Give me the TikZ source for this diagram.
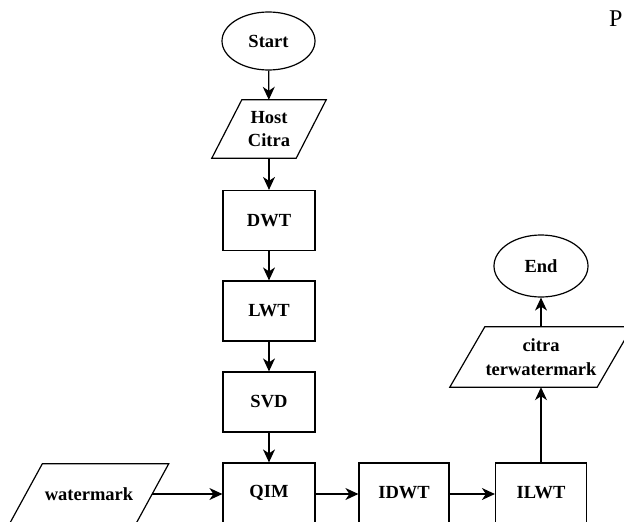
\documentclass[tikz,border=0pt]{standalone}
\usepackage{fontspec}
\setmainfont{Liberation Serif}
\usetikzlibrary{shapes.geometric,arrows.meta}
\begin{document}
\begin{tikzpicture}[x=1pt,y=-1pt,
  every node/.style={font=\fontsize{18.5}{23.5}\selectfont\bfseries, align=center},
  lw/.style={line width=1.2pt},
  proc/.style={draw, lw, rectangle, minimum width=92pt, minimum height=60pt, inner sep=0pt},
  term/.style={draw, lw, ellipse, minimum width=93pt, minimum height=58pt, inner sep=0pt},
  iobox/.style={rectangle, inner sep=0pt},
  arr/.style={lw, -{Stealth[length=13pt,width=12pt,inset=4pt]}}
]
\useasboundingbox (0,0) rectangle (624,522);
\fill[white] (0,0) rectangle (624,522);
\begin{scope}
\clip (0,0) rectangle (624,522);
% nodes
\node[term] (start) at (268.5,41) {Start};
\node[iobox, minimum width=84pt, minimum height=58pt] (host) at (269,129) {Host\\Citra};
\node[proc] (dwt) at (269,220.5) {DWT};
\node[proc] (lwt) at (269,311) {LWT};
\node[proc] (svd) at (269,402) {SVD};
\node[proc] (qim) at (269,493) {QIM};
\node[iobox, minimum width=126pt, minimum height=60pt] (wm) at (89,494) {watermark};
\node[proc, minimum width=90pt] (idwt) at (404,493) {IDWT};
\node[proc, minimum width=91pt] (ilwt) at (541,493) {ILWT};
\node[iobox, minimum width=147pt, minimum height=60pt] (citra) at (541,357) {citra\\terwatermark};
\node[term, minimum width=94pt, minimum height=62pt] (end) at (541,266) {End};
% parallelogram outlines
\draw[lw] ([xshift=15pt]host.north west) -- ([xshift=15pt]host.north east) -- ([xshift=-15pt]host.south east) -- ([xshift=-15pt]host.south west) -- cycle;
\draw[lw] ([xshift=16.5pt]wm.north west) -- ([xshift=16.5pt]wm.north east) -- ([xshift=-16.5pt]wm.south east) -- ([xshift=-16.5pt]wm.south west) -- cycle;
\draw[lw] ([xshift=17.5pt]citra.north west) -- ([xshift=17.5pt]citra.north east) -- ([xshift=-17.5pt]citra.south east) -- ([xshift=-17.5pt]citra.south west) -- cycle;
% connectors
\draw[arr] (start) -- (host);
\draw[arr] (host) -- (dwt);
\draw[arr] (dwt) -- (lwt);
\draw[arr] (lwt) -- (svd);
\draw[arr] (svd) -- (qim);
\draw[arr] (wm.east) -- (qim.west |- wm.east);
\draw[arr] (qim.east |- wm.east) -- (idwt.west |- wm.east);
\draw[arr] (idwt.east |- wm.east) -- (ilwt.west |- wm.east);
\draw[arr] (ilwt.north) -- (citra.south);
\draw[arr] (citra.north) -- (end.south);
\node[anchor=base west, font=\fontsize{24}{28}\selectfont, inner sep=0pt] (p) at (609,27) {P};
\end{scope}
\end{tikzpicture}
\end{document}
